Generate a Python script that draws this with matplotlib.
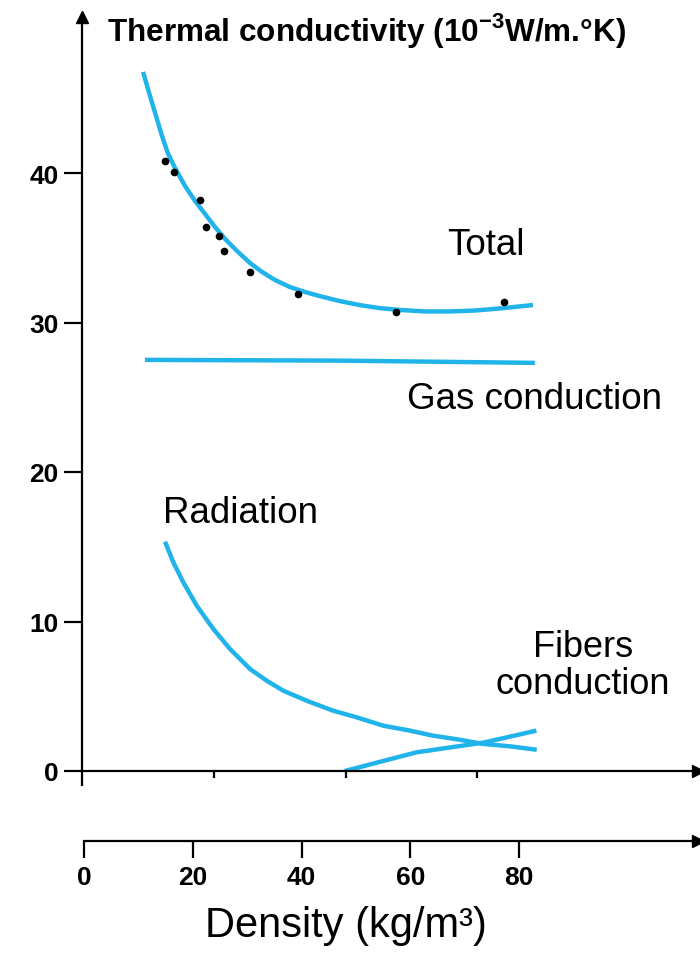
import matplotlib
matplotlib.use("Agg")
import matplotlib.pyplot as plt

plt.rcParams["font.family"] = ["Liberation Sans", "DejaVu Sans"]
plt.rcParams["mathtext.fontset"] = "custom"
plt.rcParams["mathtext.rm"] = "Liberation Sans"
plt.rcParams["mathtext.bf"] = "Liberation Sans:bold"

# Thermal conductivity contributions (10^-3 W/m.K) versus density (kg/m3)
total_x = [10.74, 12.04, 13.15, 14.26, 15.37, 16.67, 18.52, 20.37, 22.22, 24.07,
           25.93, 28.15, 30.56, 32.78, 35.19, 37.96, 40.74, 43.52, 47.22, 50.93,
           54.63, 58.33, 62.96, 67.59, 72.22, 76.85, 82.96]
total_y = [46.76, 45.15, 43.81, 42.47, 41.30, 40.33, 39.13, 38.13, 37.26, 36.39,
           35.59, 34.78, 33.98, 33.38, 32.84, 32.37, 32.04, 31.76, 31.43, 31.16,
           30.96, 30.84, 30.74, 30.74, 30.80, 30.94, 31.17]

measured_x = [14.9, 16.5, 21.3, 22.4, 24.8, 25.7, 30.6, 39.4, 57.5, 77.5]
measured_y = [40.8, 40.1, 38.2, 36.4, 35.8, 34.8, 33.4, 31.9, 30.7, 31.4]

gas_x = [11.1, 47.0, 83.3]
gas_y = [27.5, 27.45, 27.3]

radiation_x = [14.81, 16.35, 18.20, 20.69, 23.76, 26.85, 30.56, 33.65, 36.72, 41.06,
               45.98, 50.31, 55.24, 60.19, 64.50, 69.44, 73.76, 78.70, 83.65]
radiation_y = [15.34, 13.96, 12.62, 11.06, 9.50, 8.16, 6.82, 6.04, 5.37, 4.70,
               4.03, 3.59, 3.03, 2.70, 2.36, 2.09, 1.81, 1.65, 1.42]

fibers_x = [48.1, 61.4, 73.8, 83.6]
fibers_y = [0.0, 1.25, 1.9, 2.7]

y_ticks = [0, 10, 20, 30, 40]
density_ticks = [0, 20, 40, 60, 80]
upper_minor_ticks = [23.9, 48.3, 72.6]

CURVE = "#21b4ea"
W, H = 700, 954
TOP = 18

fig = plt.figure(figsize=(W / 100, H / 100), dpi=100)
fig.patch.set_facecolor("white")

# main panel: origin at (82, 772) px, 5.4 px per kg/m3, 14.95 px per unit
ax = fig.add_axes([82 / W, (H - 772) / H, 616 / W, (772 - TOP) / H])
ax.set_xlim(-0.56, -0.56 + 616 / 5.4)
ax.set_ylim(0, (772 - TOP) / 14.95)
ax.patch.set_alpha(0)
for s in ("top", "right"):
    ax.spines[s].set_visible(False)
for s in ("left", "bottom"):
    ax.spines[s].set_linewidth(1.6)
    ax.spines[s].set_color("black")

ax.set_yticks(y_ticks)
ax.set_yticklabels([str(v) for v in y_ticks], fontsize=19, fontweight="bold")
ax.tick_params(axis="y", direction="out", length=13, width=1.6, pad=4)
ax.set_xticks([-0.56])
ax.set_xticklabels([])
ax.set_xticks(upper_minor_ticks, minor=True)
ax.tick_params(axis="x", which="major", direction="out", length=11, width=1.6)
ax.tick_params(axis="x", which="minor", direction="out", length=5, width=1.6)

ax.plot(0, 1, marker="^", color="black", markersize=9, transform=ax.transAxes, clip_on=False)
ax.plot(1, 0, marker=">", color="black", markersize=9, transform=ax.transAxes, clip_on=False)

for xs, ys in ((total_x, total_y), (gas_x, gas_y), (radiation_x, radiation_y), (fibers_x, fibers_y)):
    ax.plot(xs, ys, color=CURVE, lw=3.2, solid_capstyle="butt", solid_joinstyle="round")
ax.plot(measured_x, measured_y, "o", color="black", markersize=4.5, zorder=5)

ax.set_ylabel(r"Thermal conductivity (10$^{\mathbf{-3}}$W/m.°K)", rotation=0,
              fontsize=22.7, fontweight="bold", ha="left", va="center")
ax.yaxis.set_label_coords((107 - 82) / 616, (772 - 30) / (772 - TOP))

ax.text(74.3, 35.25, "Total", fontsize=26.5, ha="center", va="center")
ax.text(59.6, 24.9, "Gas conduction", fontsize=26.5, ha="left", va="center")
ax.text(14.4, 17.3, "Radiation", fontsize=26.5, ha="left", va="center")
ax.text(92.2, 7.1, "Fibers\nconduction", fontsize=26, ha="center", va="center",
        linespacing=1.1)

# density scale below the panel
ax2 = fig.add_axes([84 / W, (H - 842) / H, 614 / W, 0.0005])
ax2.set_xlim(0, 614 / 5.44)
ax2.patch.set_alpha(0)
for s in ("top", "right", "left"):
    ax2.spines[s].set_visible(False)
ax2.spines["bottom"].set_linewidth(1.6)
ax2.set_yticks([])
ax2.set_xticks(density_ticks)
ax2.set_xticklabels([str(v) for v in density_ticks], fontsize=19, fontweight="bold")
ax2.tick_params(axis="x", direction="out", length=12, width=1.6, pad=5)
ax2.plot(1, 0, marker=">", color="black", markersize=9, transform=ax2.transAxes, clip_on=False)
ax2.set_xlabel("Density (kg/m³)", fontsize=30, labelpad=12)
ax2.xaxis.label.set_x((346 - 84) / 614)

fig.savefig("out.png", dpi=100, facecolor="white")
